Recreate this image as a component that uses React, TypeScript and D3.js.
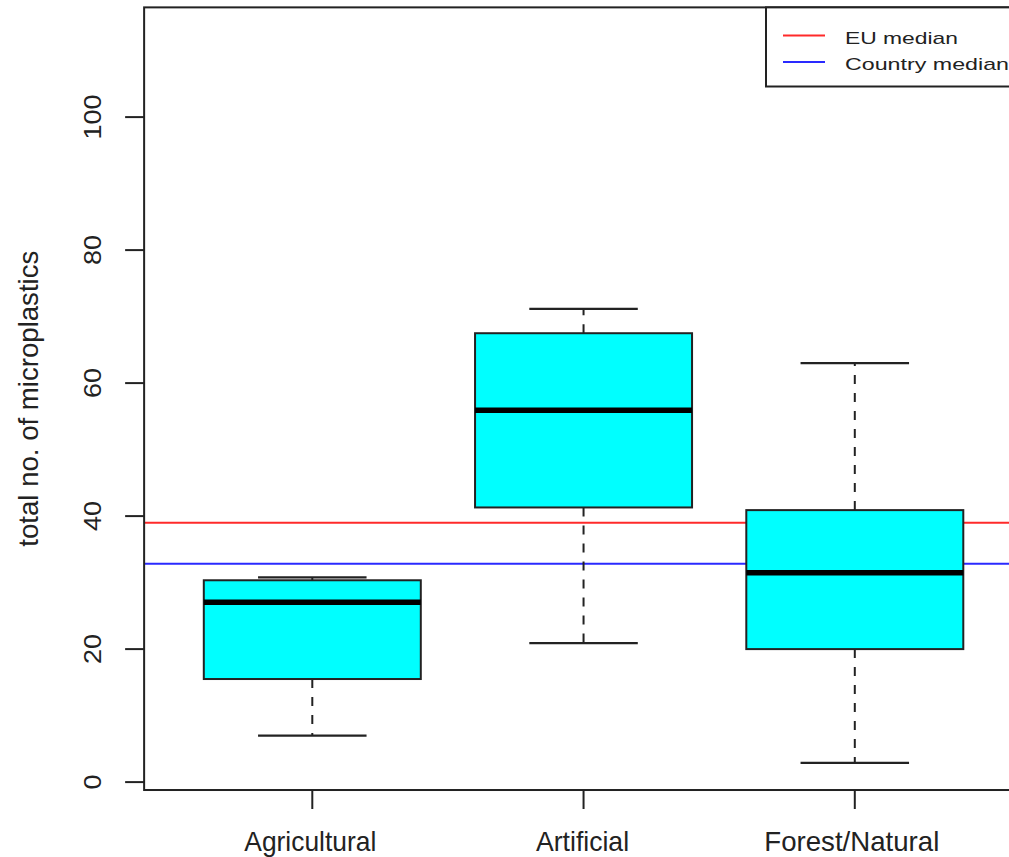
import React from "react";
import * as d3 from "d3";

const categories = ["Agricultural", "Artificial", "Forest/Natural"];
const whiskerLow = [7, 20.9, 2.9];
const q1 = [15.5, 41.3, 20];
const medians = [27.05, 55.9, 31.5];
const q3 = [30.35, 67.5, 40.9];
const whiskerHigh = [30.8, 71.15, 63];
const yTicks = [0, 20, 40, 60, 80, 100];
const refLabels = ["EU median", "Country median"];
const refValues = [39, 32.85];
const refColors = ["#ff2a2a", "#2a2aff"];

const W = 1009;
const H = 857;

export default function App() {
  const y = d3.scaleLinear().domain([0, 100]).range([782.1, 117.1]);
  const x = d3.scaleLinear().domain([1, 3]).range([312.3, 854.8]);
  const xLeft = x(0.38);
  const xRight = x(3.62);
  const yTop = y(116.5);
  const yBot = y(-1.19);
  const halfBox = x(1.4) - x(1);
  const halfCap = x(1.2) - x(1);
  const font = "'Liberation Sans', Arial, Helvetica, sans-serif";
  const textColor = "#222";
  const xLabelLen = [132, 93, 175];

  return (
    <svg width={W} height={H} style={{ position: "absolute", left: 0, top: 0, background: "#fff" }} fontFamily={font}>
      <defs>
        <clipPath id="plotClip">
          <rect x={xLeft} y={yTop} width={xRight - xLeft} height={yBot - yTop} />
        </clipPath>
      </defs>
      <rect x={0} y={0} width={W} height={H} fill="#fff" />

      {/* reference lines */}
      <g clipPath="url(#plotClip)">
        {refValues.map((v, i) => (
          <line key={"ref" + i} x1={xLeft} x2={xRight} y1={y(v)} y2={y(v)} stroke={refColors[i]} strokeWidth={2} />
        ))}
      </g>

      {/* boxes */}
      {categories.map((c, i) => {
        const cx = x(i + 1);
        return (
          <g key={c}>
            <line x1={cx} x2={cx} y1={y(q1[i])} y2={y(whiskerLow[i])} stroke="#222" strokeWidth={2} strokeDasharray="9,9" />
            <line x1={cx} x2={cx} y1={y(q3[i])} y2={y(whiskerHigh[i])} stroke="#222" strokeWidth={2} strokeDasharray="9,9" />
            <line x1={cx - halfCap} x2={cx + halfCap} y1={y(whiskerLow[i])} y2={y(whiskerLow[i])} stroke="#222" strokeWidth={2.2} />
            <line x1={cx - halfCap} x2={cx + halfCap} y1={y(whiskerHigh[i])} y2={y(whiskerHigh[i])} stroke="#222" strokeWidth={2.2} />
            <rect x={cx - halfBox} y={y(q3[i])} width={2 * halfBox} height={y(q1[i]) - y(q3[i])} fill="#00ffff" stroke="#222" strokeWidth={2} />
            <line x1={cx - halfBox} x2={cx + halfBox} y1={y(medians[i])} y2={y(medians[i])} stroke="#000" strokeWidth={5.5} />
          </g>
        );
      })}

      {/* frame */}
      <rect x={xLeft} y={yTop} width={xRight - xLeft} height={yBot - yTop} fill="none" stroke="#222" strokeWidth={2} />

      {/* y axis ticks + labels */}
      {yTicks.map((t) => (
        <g key={"yt" + t}>
          <line x1={xLeft - 19} x2={xLeft} y1={y(t)} y2={y(t)} stroke="#222" strokeWidth={2} />
          <text
            transform={`translate(101,${y(t)}) scale(0.86,1) rotate(-90)`}
            textAnchor="middle"
            fontSize={27}
            fill={textColor}
          >
            {t}
          </text>
        </g>
      ))}

      {/* x axis ticks + labels */}
      {categories.map((c, i) => (
        <g key={"xt" + c}>
          <line x1={x(i + 1)} x2={x(i + 1)} y1={yBot} y2={yBot + 19} stroke="#222" strokeWidth={2} />
          <text
            x={x(i + 1) - xLabelLen[i] / 2 + (i === 0 ? -2 : i === 1 ? -1 : -3)}
            y={851}
            fontSize={28}
            fill={textColor}
            textLength={xLabelLen[i]}
            lengthAdjust="spacingAndGlyphs"
          >
            {c}
          </text>
        </g>
      ))}

      {/* y title */}
      <text
        transform={`translate(38,${(yTop + yBot) / 2}) rotate(-90)`}
        textAnchor="middle"
        fontSize={28}
        fill={textColor}
        textLength={296}
        lengthAdjust="spacingAndGlyphs"
      >
        total no. of microplastics
      </text>

      {/* legend */}
      <rect x={766} y={yTop} width={300} height={86.5 - yTop} fill="#fff" stroke="#222" strokeWidth={2} />
      {refLabels.map((l, i) => (
        <g key={"lg" + i}>
          <line x1={783} x2={825} y1={35.5 + i * 26.5} y2={35.5 + i * 26.5} stroke={refColors[i]} strokeWidth={2} />
          <text
            x={845}
            y={44 + i * 26}
            fontSize={17}
            fill={textColor}
            textLength={i === 0 ? 113 : 164}
            lengthAdjust="spacingAndGlyphs"
          >
            {l}
          </text>
        </g>
      ))}
    </svg>
  );
}
